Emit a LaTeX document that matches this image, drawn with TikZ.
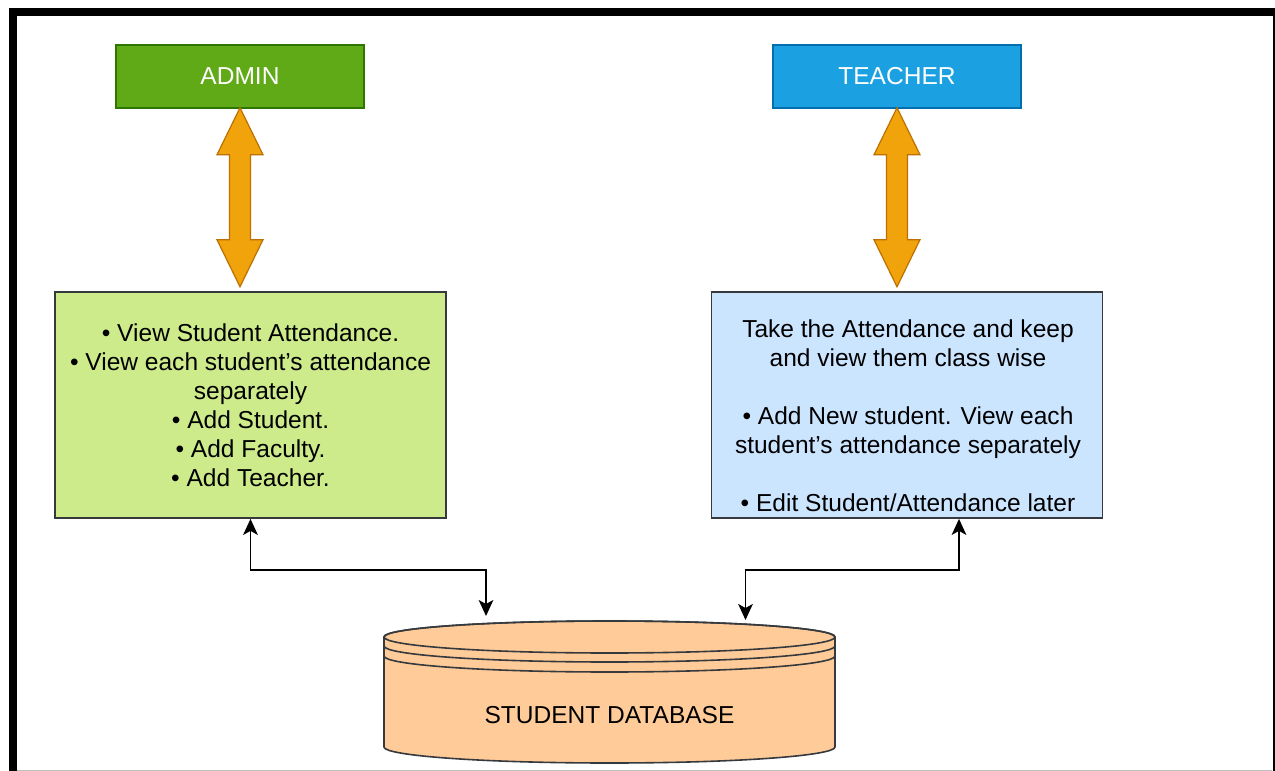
\documentclass[tikz,border=0pt]{standalone}
\usepackage{fontspec}
\setmainfont{Liberation Sans}
\usetikzlibrary{arrows.meta}
\newdimen\pxu \pxu=0.75pt
\definecolor{admingreen}{HTML}{60A917}
\definecolor{admingreenline}{HTML}{2D7600}
\definecolor{teachblue}{HTML}{1BA1E2}
\definecolor{teachblueline}{HTML}{006EAF}
\definecolor{orangefill}{HTML}{F0A30A}
\definecolor{orangeline}{HTML}{BD7000}
\definecolor{lightgreen}{HTML}{CDEB8B}
\definecolor{lightblue}{HTML}{CCE5FF}
\definecolor{boxline}{HTML}{36393D}
\definecolor{dbfill}{HTML}{FFCC99}
\begin{document}
\begin{tikzpicture}[x=0.75pt,y=-0.75pt,
  every node/.style={font=\fontsize{18.4}{21.75}\selectfont},
  rolebox/.style={draw, line width=1.5*\pxu, minimum width=248*\pxu, minimum height=63*\pxu, inner sep=0pt, text=white},
  rolegreen/.style={rolebox, fill=admingreen, draw=admingreenline},
  roleblue/.style={rolebox, fill=teachblue, draw=teachblueline},
  infobox/.style={draw=boxline, line width=1.8*\pxu, minimum width=391*\pxu, minimum height=226*\pxu, inner sep=0pt, align=center},
  orangearr/.style={fill=orangefill, draw=orangeline, line width=1.2*\pxu, line join=miter},
  conn/.style={draw=black, line width=1.6*\pxu, {Stealth[length=12pt,width=11pt,inset=3pt]}-{Stealth[length=12pt,width=11pt,inset=3pt]}},
  dbshape/.style={fill=dbfill, draw=boxline, line width=1.6*\pxu}
]
\useasboundingbox (0,0) rectangle (1275,771);
\clip (0,0) rectangle (1275,771);
\fill[white] (0,0) rectangle (1275,771);

% frame
\draw[line width=8*\pxu] (13,12) rectangle (1277,800);
\draw[black!25, line width=1*\pxu] (17,770.5) -- (1272,770.5);

% role boxes
\node[rolegreen] (ad) at (240,76.5) {ADMIN};
\node[roleblue] (te) at (897,76.5) {TEACHER};

% info boxes
\node[infobox, fill=lightgreen] (ab) at (250.5,405) {%
  \textbullet\ View Student Attendance.\\
  \textbullet\ View each student’s attendance\\
  separately\\
  \textbullet\ Add Student.\\
  \textbullet\ Add Faculty.\\
  \textbullet\ Add Teacher.};
\node[infobox, fill=lightblue] (tb) at (907,405) {};
\node[align=center, inner sep=0pt] (tbtext) at (908,416) {%
  Take the Attendance and keep\\
  and view them class wise\\[21.75pt]
  \textbullet\ Add New student. View each\\
  student’s attendance separately\\[21.75pt]
  \textbullet\ Edit Student/Attendance later};

% orange double arrows
\draw[orangearr] ([yshift=1*\pxu]ad.south) -- ++(23,47) -- ++(-12.5,0) -- ++(0,85) -- ++(12.5,0)
  -- ++(-23,47) -- ++(-23,-47) -- ++(12.5,0) -- ++(0,-85) -- ++(-12.5,0) -- cycle;
\draw[orangearr] ([yshift=1*\pxu]te.south) -- ++(23,47) -- ++(-12.5,0) -- ++(0,85) -- ++(12.5,0)
  -- ++(-23,47) -- ++(-23,-47) -- ++(12.5,0) -- ++(0,-85) -- ++(-12.5,0) -- cycle;

% database
\filldraw[dbshape] (384,637) -- (384,747)
  arc[start angle=180, end angle=360, x radius=225.5*\pxu, y radius=16*\pxu]
  -- (835,637)
  arc[start angle=0, end angle=180, x radius=225.5*\pxu, y radius=16*\pxu] -- cycle;
\draw[dbshape, fill=none] (609.5,637) ellipse[x radius=225.5*\pxu, y radius=16*\pxu];
\draw[dbshape, fill=none] (384,646) arc[start angle=180, end angle=360, x radius=225.5*\pxu, y radius=16*\pxu];
\draw[dbshape, fill=none] (384,656) arc[start angle=180, end angle=360, x radius=225.5*\pxu, y radius=16*\pxu];
\node (db) at (609.5,715) {STUDENT DATABASE};
\coordinate (dbinL) at (486,616);
\coordinate (dbinR) at (745.5,620);

% connectors
\draw[conn] (ab.south) -- ++(0,51) -| (dbinL);
\draw[conn] ([xshift=52*\pxu]tb.south) -- ++(0,51) -| (dbinR);
\end{tikzpicture}
\end{document}
